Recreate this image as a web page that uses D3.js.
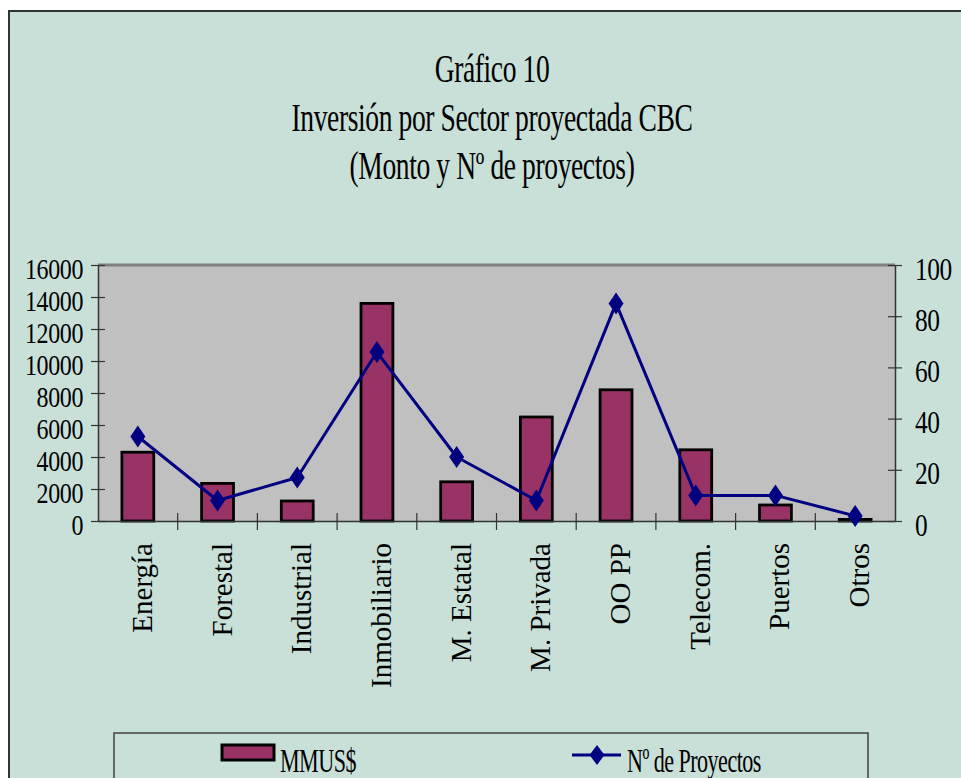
<!DOCTYPE html>
<html>
<head>
<meta charset="utf-8">
<script src="https://cdn.jsdelivr.net/npm/d3@7"></script>
<style>
  html, body { margin: 0; padding: 0; background: #ffffff; }
  svg { display: block; }
  text { font-family: "Liberation Serif", "Times New Roman", serif; fill: #000; }
</style>
</head>
<body>
<svg id="chart" width="961" height="778"></svg>
<script>
// Sector investment (MMUS$) and number of projects
const categories = ["Energía", "Forestal", "Industrial", "Inmobiliario", "M. Estatal",
                    "M. Privada", "OO PP", "Telecom.", "Puertos", "Otros"];
const montoMMUS = [4300, 2350, 1250, 13600, 2450, 6500, 8200, 4450, 1000, 100];
const nProyectos = [33, 8, 17, 66, 25, 8, 85, 10, 10, 2];
const leftTicks = [0, 2000, 4000, 6000, 8000, 10000, 12000, 14000, 16000];
const rightTicks = [0, 20, 40, 60, 80, 100];
const titleLines = ["Gráfico 10", "Inversión por Sector proyectada CBC", "(Monto y Nº de proyectos)"];
const seriesNames = ["MMUS$", "Nº de Proyectos"];

const svg = d3.select("#chart");

const colors = {
  page: "#C9E0D9",
  plot: "#C0C0C0",
  bar: "#993366",
  line: "#000080",
  axis: "#333333"
};

const plot = { left: 98, right: 895, top: 265, bottom: 521 };

// Chart frame
svg.append("rect")
  .attr("x", 9).attr("y", 11)
  .attr("width", 970).attr("height", 790)
  .attr("fill", colors.page)
  .attr("stroke", "#333").attr("stroke-width", 2);

// Title, horizontally condensed
const title = svg.append("g");
titleLines.forEach((t, i) => {
  title.append("text")
    .attr("transform", `translate(492,${82 + i * 48.5}) scale(0.69,1)`)
    .attr("text-anchor", "middle")
    .attr("font-size", 40)
    .attr("letter-spacing", -0.6)
    .text(t);
});

// Scales
const x = d3.scaleBand().domain(categories).range([plot.left, plot.right]).padding(0);
const yL = d3.scaleLinear().domain([0, 16000]).range([plot.bottom, plot.top]);
const yR = d3.scaleLinear().domain([0, 100]).range([plot.bottom, plot.top]);

// Plot area
svg.append("rect")
  .attr("x", plot.left).attr("y", plot.top)
  .attr("width", plot.right - plot.left).attr("height", plot.bottom - plot.top)
  .attr("fill", colors.plot);
svg.append("line")
  .attr("x1", plot.left).attr("x2", plot.right)
  .attr("y1", plot.top).attr("y2", plot.top)
  .attr("stroke", "#808080").attr("stroke-width", 3);

// Bars
const bw = x.bandwidth();
svg.append("g").selectAll("rect")
  .data(categories)
  .join("rect")
  .attr("x", d => x(d) + bw * 0.3)
  .attr("width", bw * 0.4)
  .attr("y", (d, i) => yL(montoMMUS[i]))
  .attr("height", (d, i) => yL(0) - yL(montoMMUS[i]))
  .attr("fill", colors.bar)
  .attr("stroke", "#000")
  .attr("stroke-width", 2.8);

// Left axis
const axL = svg.append("g")
  .attr("transform", `translate(${plot.left},0)`)
  .call(d3.axisLeft(yL).tickValues(leftTicks).tickFormat(d3.format("d")).tickSizeOuter(0));
axL.select(".domain").attr("stroke", colors.axis).attr("stroke-width", 1.5);
axL.selectAll(".tick line").attr("x1", -7).attr("x2", 7).attr("stroke", colors.axis).attr("stroke-width", 1.2);
axL.selectAll(".tick text")
  .attr("x", null).attr("dy", null)
  .attr("transform", "translate(-15,13) scale(0.8,1)")
  .attr("text-anchor", "end")
  .attr("font-size", 30)
  .attr("letter-spacing", -0.5)
  .attr("font-family", "Liberation Serif, Times New Roman, serif")
  .attr("fill", "#000");

// Right axis
const axR = svg.append("g")
  .attr("transform", `translate(${plot.right},0)`)
  .call(d3.axisRight(yR).tickValues(rightTicks).tickFormat(d3.format("d")).tickSizeOuter(0));
axR.select(".domain").attr("stroke", colors.axis).attr("stroke-width", 1.5);
axR.selectAll(".tick line").attr("x1", -7).attr("x2", 7).attr("stroke", colors.axis).attr("stroke-width", 1.2);
axR.selectAll(".tick text")
  .attr("x", null).attr("dy", null)
  .attr("transform", "translate(20,14) scale(0.82,1)")
  .attr("text-anchor", "start")
  .attr("font-size", 31)
  .attr("letter-spacing", -0.5)
  .attr("font-family", "Liberation Serif, Times New Roman, serif")
  .attr("fill", "#000");

// Category axis with ticks between categories
const axB = svg.append("g")
  .attr("transform", `translate(0,${plot.bottom})`)
  .call(d3.axisBottom(x).tickSize(0).tickSizeOuter(0));
axB.select(".domain").attr("stroke", colors.axis).attr("stroke-width", 1.5);
axB.selectAll(".tick text")
  .attr("y", null).attr("dy", null)
  .attr("transform", "translate(14,22) rotate(-90)")
  .attr("text-anchor", "end")
  .attr("font-size", 29)
  .attr("font-family", "Liberation Serif, Times New Roman, serif")
  .attr("fill", "#000");
axB.append("g").selectAll("line")
  .data(categories.slice(1))
  .join("line")
  .attr("x1", d => x(d)).attr("x2", d => x(d))
  .attr("y1", -8).attr("y2", 9)
  .attr("stroke", colors.axis).attr("stroke-width", 1.2);

// Projects line with diamond markers
const cx = d => x(d) + bw / 2;
const diamond = (px, py, hw, hh) =>
  `M${px},${py - hh}L${px + hw},${py}L${px},${py + hh}L${px - hw},${py}Z`;

svg.append("path")
  .datum(categories)
  .attr("fill", "none")
  .attr("stroke", colors.line)
  .attr("stroke-width", 3)
  .attr("stroke-linejoin", "round")
  .attr("d", d3.line().x(d => cx(d)).y((d, i) => yR(nProyectos[i])));

svg.append("g").selectAll("path")
  .data(categories)
  .join("path")
  .attr("d", (d, i) => diamond(cx(d), yR(nProyectos[i]), 7.5, 11))
  .attr("fill", colors.line);

// Legend
const legend = svg.append("g");
legend.append("rect")
  .attr("x", 114).attr("y", 733)
  .attr("width", 754).attr("height", 70)
  .attr("fill", "none")
  .attr("stroke", "#404040").attr("stroke-width", 1.5);
legend.append("rect")
  .attr("x", 222).attr("y", 745)
  .attr("width", 52).attr("height", 15)
  .attr("fill", colors.bar)
  .attr("stroke", "#000").attr("stroke-width", 3);
legend.append("text")
  .attr("transform", "translate(280,772) scale(0.67,1)")
  .attr("font-size", 33)
  .attr("letter-spacing", -0.8)
  .text(seriesNames[0]);
legend.append("line")
  .attr("x1", 572).attr("x2", 621)
  .attr("y1", 755).attr("y2", 755)
  .attr("stroke", colors.line).attr("stroke-width", 3);
legend.append("path")
  .attr("d", diamond(597, 755, 7.5, 10))
  .attr("fill", colors.line);
legend.append("text")
  .attr("transform", "translate(627,772) scale(0.67,1)")
  .attr("font-size", 33)
  .attr("letter-spacing", -0.8)
  .text(seriesNames[1]);
</script>
</body>
</html>
